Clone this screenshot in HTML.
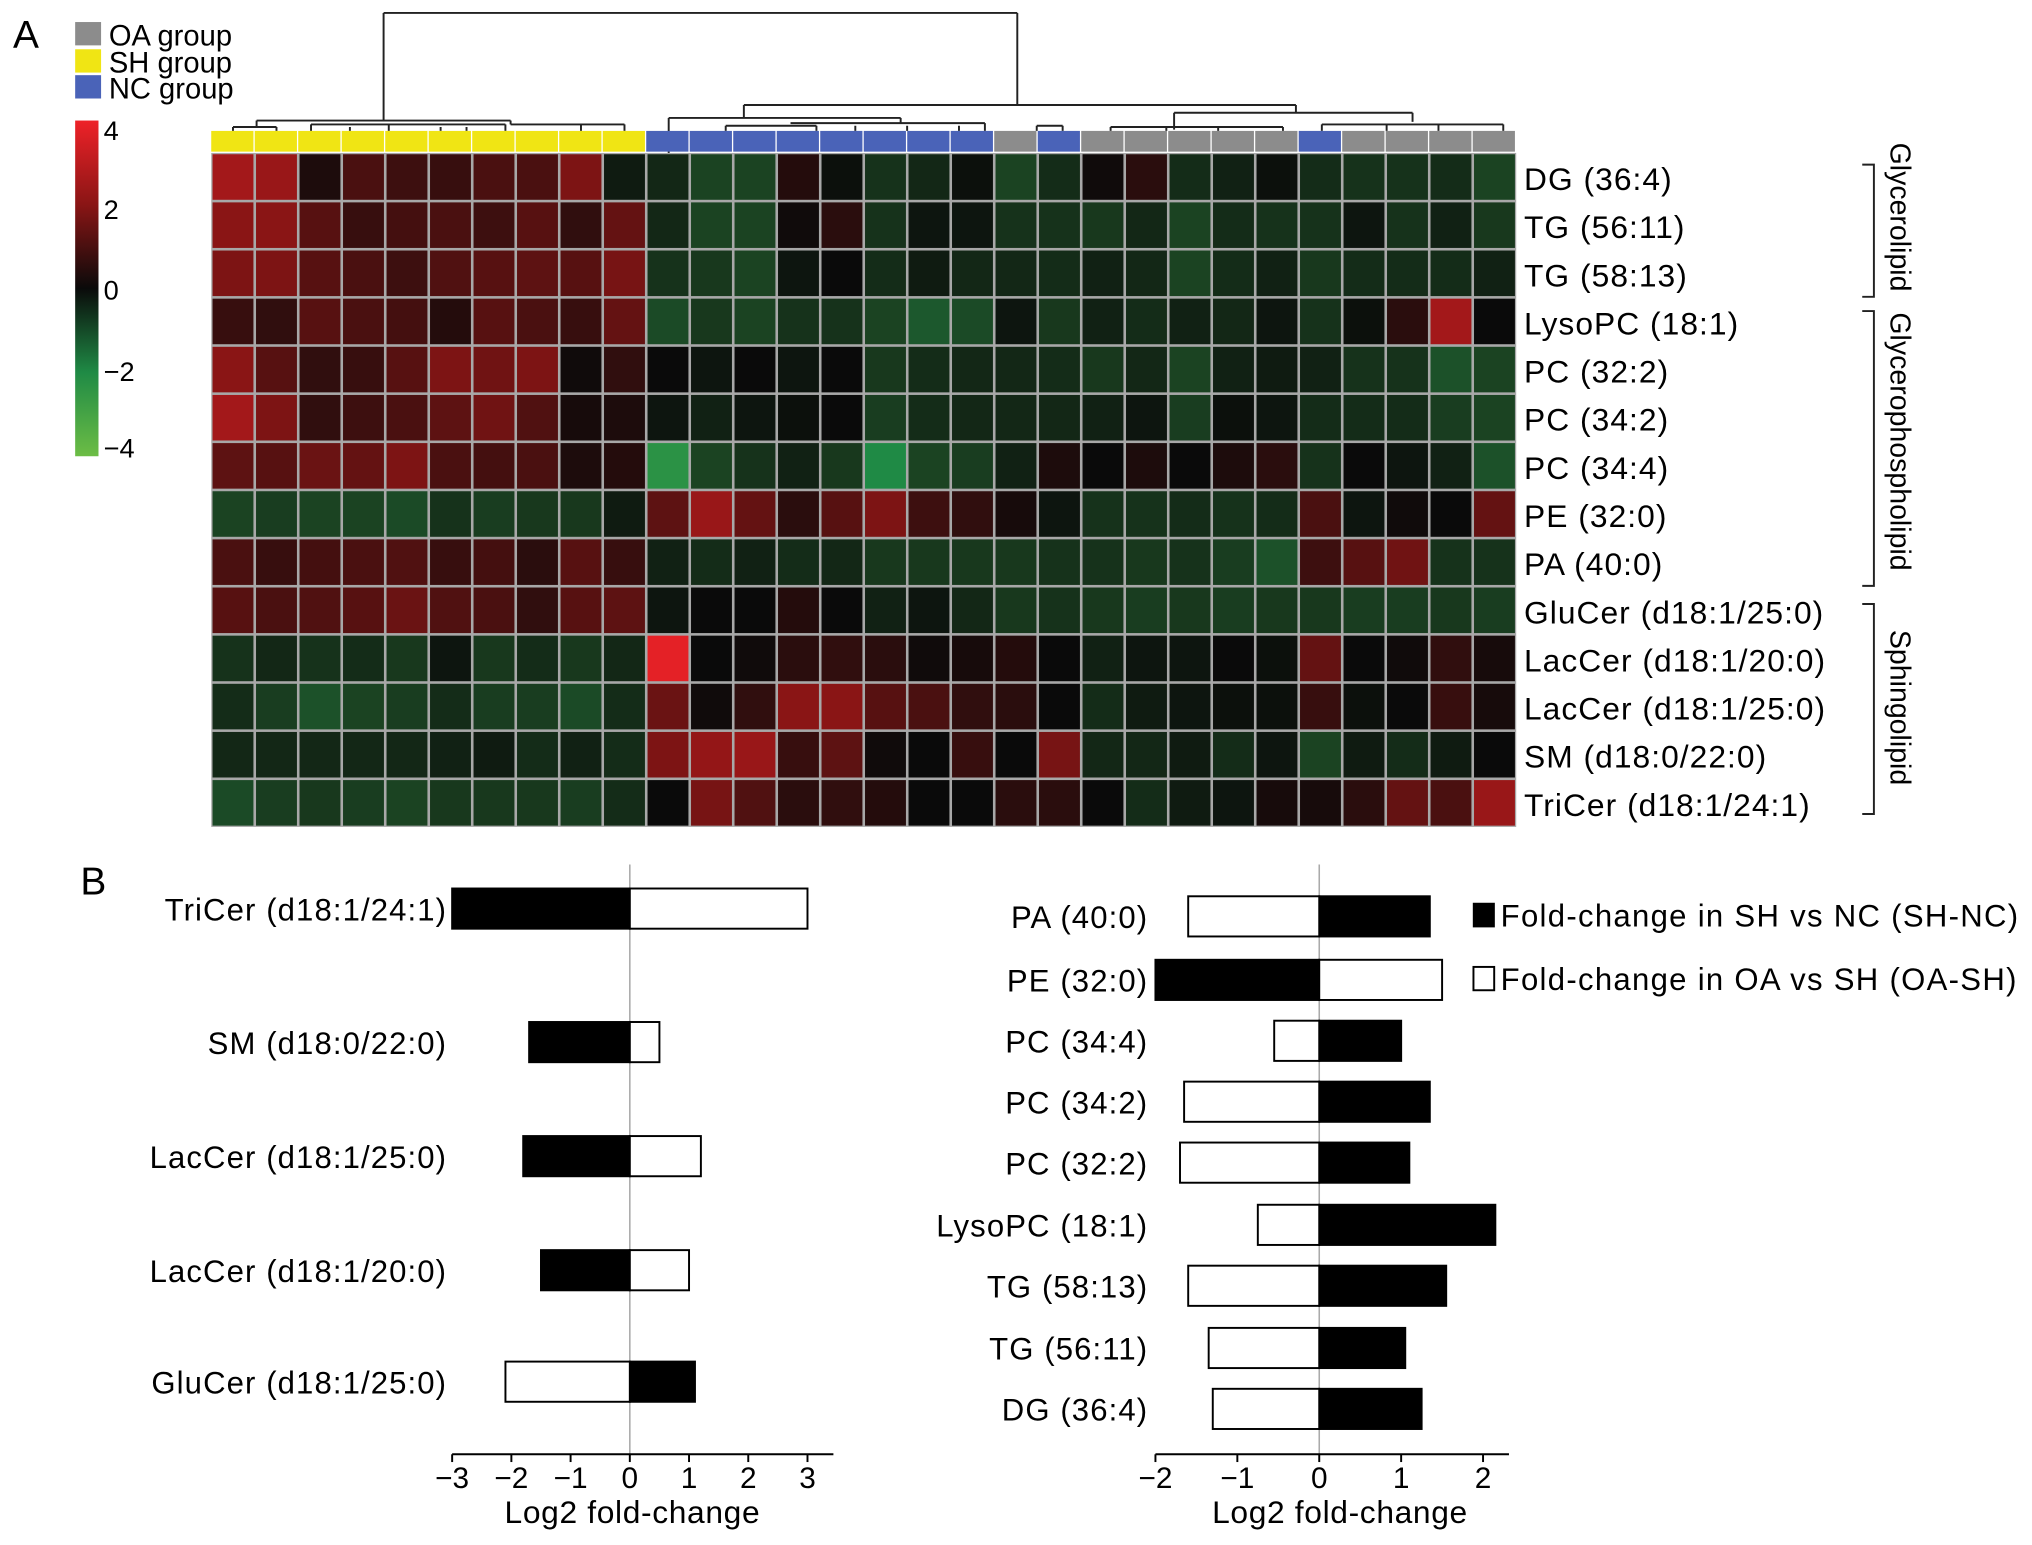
<!DOCTYPE html>
<html><head><meta charset="utf-8"><style>
html,body{margin:0;padding:0;background:#fff;}
svg{display:block;font-family:"Liberation Sans",Arial,sans-serif;}
</style></head><body>
<svg id="fig" width="2032" height="1545" viewBox="0 0 1568 1192" preserveAspectRatio="none" xmlns="http://www.w3.org/2000/svg">
<rect x="0" y="0" width="1568" height="1192" fill="#fff"/>
<text x="10" y="37" font-size="30">A</text>
<text x="62" y="690" font-size="30">B</text>
<g id="legendGroups">
<rect x="58" y="17" width="20" height="18" fill="#8c8c8c"/>
<text x="84" y="35" font-size="22.5">OA group</text>
<rect x="58" y="38" width="20" height="18" fill="#f0e514"/>
<text x="84" y="56" font-size="22.5">SH group</text>
<rect x="58" y="58" width="20" height="18" fill="#4a63b8"/>
<text x="84" y="76" font-size="22.5">NC group</text>
</g>
<defs><linearGradient id="cg" x1="0" y1="0" x2="0" y2="1">
<stop offset="0" stop-color="#ee2228"/><stop offset="0.25" stop-color="#8a1515"/><stop offset="0.5" stop-color="#0a0a0a"/><stop offset="0.75" stop-color="#1f8a45"/><stop offset="1" stop-color="#6cbd45"/>
</linearGradient></defs>
<g>
<rect x="58" y="93" width="18" height="259" fill="url(#cg)"/>
<text x="80" y="108" font-size="21">4</text>
<text x="80" y="169" font-size="21">2</text>
<text x="80" y="231" font-size="21">0</text>
<text x="80" y="294" font-size="21">−2</text>
<text x="80" y="353" font-size="21">−4</text>
</g>
<g id="dendro" fill="none" stroke="#222" stroke-width="1.5"></g>
<g id="annot"></g>
<g id="heat"></g>
<g id="rowlabels"></g>
<g fill="none" stroke="#222" stroke-width="1.5">
<path d="M1437 127 H1446 V229 H1437"/>
<path d="M1437 240 H1446 V452 H1437"/>
<path d="M1437 466 H1446 V628 H1437"/>
</g>
<text transform="translate(1459,110) rotate(90)" font-size="22">Glycerolipid</text>
<text transform="translate(1459,241) rotate(90)" font-size="22">Glycerophospholipid</text>
<text transform="translate(1459,486) rotate(90)" font-size="22">Sphingolipid</text>
<g id="barsL"></g>
<g id="barsR"></g>
<g>
<rect x="1137" y="697" width="16" height="18" fill="#000" stroke="#000"/>
<text x="1158" y="715" font-size="24" letter-spacing="1">Fold-change in SH vs NC (SH-NC)</text>
<rect x="1137" y="746" width="16" height="18" fill="#fff" stroke="#000" stroke-width="1.5"/>
<text x="1158" y="764" font-size="24" letter-spacing="1">Fold-change in OA vs SH (OA-SH)</text>
</g>
</svg>
<script>
const NS='http://www.w3.org/2000/svg';
const rowNames=['DG (36:4)','TG (56:11)','TG (58:13)','LysoPC (18:1)','PC (32:2)','PC (34:2)','PC (34:4)','PE (32:0)','PA (40:0)','GluCer (d18:1/25:0)','LacCer (d18:1/20:0)','LacCer (d18:1/25:0)','SM (d18:0/22:0)','TriCer (d18:1/24:1)'];
const colGroups=['SH','SH','SH','SH','SH','SH','SH','SH','SH','SH','NC','NC','NC','NC','NC','NC','NC','NC','OA','NC','OA','OA','OA','OA','OA','NC','OA','OA','OA','OA'];
const heatRow0=[2.5,2.3,0.3,1,0.8,0.7,1,1,1.8,-0.3,-0.5,-1,-1,0.4,-0.1,-0.7,-0.5,-0.1,-1,-0.6,0.1,0.5,-0.6,-0.4,-0.1,-0.6,-0.7,-0.7,-0.6,-1];
const heatRow1=[2,2,1.2,0.7,0.9,1,0.8,1.2,0.6,1.4,-0.5,-1,-1,0.1,0.5,-0.7,-0.2,-0.2,-0.7,-0.7,-0.8,-0.5,-1,-0.6,-0.7,-0.7,-0.2,-0.7,-0.4,-0.8];
const heatRow2=[1.8,1.8,1.2,1,0.8,1.1,1.2,1.3,1.2,1.7,-0.7,-0.8,-1,-0.2,0,-0.6,-0.3,-0.5,-0.5,-0.6,-0.4,-0.5,-1,-0.6,-0.4,-0.8,-0.6,-0.6,-0.6,-0.4];
const heatRow3=[0.7,0.6,1.2,1,0.9,0.4,1.2,1,0.7,1.4,-1.1,-0.8,-1,-0.7,-0.7,-1,-1.3,-1.1,-0.2,-0.8,-0.4,-0.6,-0.4,-0.5,-0.2,-0.7,-0.1,0.5,2.5,0];
const heatRow4=[2,1.2,0.6,0.7,1.2,1.8,1.6,1.8,0.1,0.6,0,-0.2,0,-0.2,0,-0.8,-0.6,-0.5,-0.5,-0.6,-0.8,-0.5,-1,-0.4,-0.3,-0.4,-0.7,-0.7,-1.2,-1];
const heatRow5=[2.5,1.8,0.6,0.8,1,1.3,1.6,1.1,0.2,0.3,-0.2,-0.4,-0.2,-0.1,0,-0.9,-0.6,-0.5,-0.5,-0.5,-0.4,-0.2,-0.9,-0.1,-0.2,-0.6,-0.6,-0.6,-0.9,-1];
const heatRow6=[1.3,1.2,1.5,1.4,1.8,1,0.9,1,0.3,0.4,-2.3,-1,-0.7,-0.4,-0.8,-2,-1,-0.9,-0.4,0.3,0,0.3,0,0.3,0.5,-0.7,0,-0.2,-0.4,-1.2];
const heatRow7=[-1,-0.9,-1,-1,-1.1,-0.7,-0.9,-0.8,-0.8,-0.3,1.3,2.3,1.4,0.5,1.2,1.8,0.8,0.6,0.2,-0.2,-0.7,-0.7,-0.6,-0.7,-0.6,1,-0.2,0.1,0,1.4];
const heatRow8=[1,0.7,0.9,1,1.1,0.7,0.9,0.5,1.2,0.7,-0.4,-0.6,-0.4,-0.6,-0.5,-0.8,-0.8,-0.8,-0.8,-0.7,-0.7,-0.8,-0.7,-0.9,-1.2,0.8,1.2,1.6,-0.7,-0.7];
const heatRow9=[1.2,1,1.1,1.2,1.5,1.1,1,0.6,1.2,1.3,-0.2,0,0,0.4,0,-0.4,-0.2,-0.5,-0.8,-0.7,-0.8,-0.9,-0.8,-0.9,-0.8,-0.8,-0.9,-0.9,-0.8,-0.9];
const heatRow10=[-0.7,-0.5,-0.7,-0.6,-0.8,-0.2,-0.8,-0.6,-0.8,-0.5,3.8,0,0.1,0.5,0.6,0.5,0.1,0.2,0.4,0,-0.4,-0.2,-0.2,0,-0.1,1.4,0,0.1,0.6,0.2];
const heatRow11=[-0.6,-0.9,-1.2,-1,-0.9,-0.6,-0.9,-0.9,-1.1,-0.6,1.5,0.1,0.6,2,2,1.2,1,0.6,0.5,0,-0.6,-0.3,-0.2,-0.1,-0.1,0.7,-0.1,0,0.7,0.2];
const heatRow12=[-0.5,-0.5,-0.5,-0.5,-0.5,-0.4,-0.3,-0.6,-0.4,-0.6,1.8,2.2,2.3,0.7,1.3,0.1,0,0.7,0,1.7,-0.5,-0.5,-0.3,-0.6,-0.2,-1,-0.3,-0.6,-0.3,0];
const heatRow13=[-1.1,-0.9,-0.8,-0.9,-1,-0.8,-0.8,-0.8,-0.9,-0.6,0,1.7,1.1,0.5,0.6,0.4,0,0,0.5,0.5,0,-0.6,-0.3,-0.2,0.2,0.2,0.5,1.4,1,2.3];
const heatRows=[heatRow0,heatRow1,heatRow2,heatRow3,heatRow4,heatRow5,heatRow6,heatRow7,heatRow8,heatRow9,heatRow10,heatRow11,heatRow12,heatRow13];

const leftCats=['TriCer (d18:1/24:1)','SM (d18:0/22:0)','LacCer (d18:1/25:0)','LacCer (d18:1/20:0)','GluCer (d18:1/25:0)'];
const leftShNc=[-3,-1.7,-1.8,-1.5,1.1];
const leftOaSh=[3,0.5,1.2,1.0,-2.1];
const leftTicks=[-3,-2,-1,0,1,2,3];
const rightCats=['PA (40:0)','PE (32:0)','PC (34:4)','PC (34:2)','PC (32:2)','LysoPC (18:1)','TG (58:13)','TG (56:11)','DG (36:4)'];
const rightShNc=[1.35,-2.0,1.0,1.35,1.1,2.15,1.55,1.05,1.25];
const rightOaSh=[-1.6,1.5,-0.55,-1.65,-1.7,-0.75,-1.6,-1.35,-1.3];
const rightTicks=[-2,-1,0,1,2];

function mk(tag,attrs,parent){const e=document.createElementNS(NS,tag);for(const k in attrs)e.setAttribute(k,attrs[k]);parent.appendChild(e);return e;}
function lerp(a,b,t){return a.map((v,i)=>Math.round(v+(b[i]-v)*t));}
const stops=[[-4,[108,189,69]],[-2,[31,138,69]],[-1,[27,67,34]],[0,[10,10,10]],[1,[74,16,16]],[2,[138,21,21]],[4,[238,34,40]]];
function color(v){v=Math.max(-4,Math.min(4,v));for(let i=0;i<stops.length-1;i++){const a=stops[i],b=stops[i+1];if(v>=a[0]&&v<=b[0]){const c=lerp(a[1],b[1],(v-a[0])/(b[0]-a[0]));return 'rgb('+c.join(',')+')';}}return '#000';}

const HX0=163,HX1=1170,HY0=118,HY1=638;
const nC=30,nR=rowNames.length;
const cw=(HX1-HX0)/nC, rh=(HY1-HY0)/nR;
const colX=i=>HX0+i*cw, rowY=j=>HY0+j*rh;
const heat=document.getElementById('heat');
mk('rect',{x:HX0,y:HY0,width:HX1-HX0,height:HY1-HY0,fill:'#a8a8a8'},heat);
heatRows.forEach((row,j)=>{row.forEach((v,i)=>{
  const r=mk('rect',{x:colX(i)+1,y:rowY(j)+1,width:cw-2,height:rh-2,fill:color(v)},heat);
  
  
});});
const gcol={SH:'#f0e514',NC:'#4a63b8',OA:'#8c8c8c'};
const annot=document.getElementById('annot');
colGroups.forEach((g,i)=>{
  const r=mk('rect',{x:colX(i),y:101,width:cw-1,height:16,fill:gcol[g]},annot);
  
  
});
const rl=document.getElementById('rowlabels');
rowNames.forEach((n,j)=>{
  const t=mk('text',{x:1176,y:rowY(j)+rh/2+10,'font-size':24.5,'letter-spacing':0.8},rl);t.textContent=n;
  
  
});
const dg=document.getElementById('dendro');
const cx=i=>colX(i)+cw/2;
const paths=[
 'M296 10 H785','M296 10 V93','M785 10 V81',
 'M198 93 H394','M198 93 V98','M394 93 V96',
 'M574 81 H1000','M574 81 V91','M1000 81 V87',
 'M516 91 H695','M516 91 V118','M695 91 V95',
 'M906 87 H1090','M906 87 V100','M1090 87 V94',
 'M'+cx(0)+' 98 H'+cx(1)+' M'+cx(0)+' 98 V101 M'+cx(1)+' 98 V101',
 'M240 96 H390 M300 96 V101 M240 96 V101 M390 96 V101 M270 98 V101 M340 98 V101 M360 98 V101',
 'M'+cx(8)+' 96 H'+cx(9)+' M'+cx(8)+' 96 V101 M'+cx(9)+' 96 V101 M394 96 H'+(cx(8)+cw/2),
 'M560 97 H630 M560 97 V101 M630 97 V101 M610 95 H760 M660 97 V101 M700 97 V101 M740 97 V101 M760 95 V101 M800 97 H820 M800 97 V101 M820 97 V101',
 'M857 98 H990 M857 98 V101 M900 98 V101 M940 98 V101 M990 98 V101',
 'M1020 96 H1160 M1020 96 V101 M1070 96 V101 M1110 96 V101 M1160 96 V101'
];
paths.forEach(d=>{const p=mk('path',{d:d},dg);
  
  });

function barChart(gid,cats,shnc,oash,ticks,zero,unit,centers,labelX,name){
  const g=document.getElementById(gid);
  const X=v=>zero+v*unit;
  const bh=31, axisY=1122;
  mk('line',{x1:zero,y1:667,x2:zero,y2:axisY,stroke:'#aaa','stroke-width':1.2},g);
  cats.forEach((c,k)=>{
    const cy=centers[k];
    [[shnc[k],'#000'],[oash[k],'#fff']].forEach(([v,f])=>{
      const x=Math.min(X(0),X(v)),w=Math.abs(X(v)-X(0));
      const r=mk('rect',{x:x,y:cy-bh/2,width:w,height:bh,fill:f,stroke:'#000','stroke-width':1.5},g);
      
      
    });
    const t=mk('text',{x:labelX,y:cy+9,'font-size':24,'letter-spacing':0.85,'text-anchor':'end'},g);t.textContent=c;
    
    
  });
  mk('line',{x1:X(ticks[0]),y1:axisY,x2:X(ticks[ticks.length-1])+20,y2:axisY,stroke:'#000','stroke-width':1.5},g);
  ticks.forEach(tk=>{
    mk('line',{x1:X(tk),y1:axisY,x2:X(tk),y2:axisY+6,stroke:'#000','stroke-width':1.5},g);
    const t=mk('text',{x:X(tk),y:axisY+26,'font-size':23,'text-anchor':'middle'},g);
    t.textContent=tk<0?'−'+(-tk):String(tk);
    
    
  });
  const tt=mk('text',{x:X(0)+(name==='left'?2:16),y:1175,'font-size':24.5,'letter-spacing':0.5,'text-anchor':'middle'},g);
  tt.textContent='Log2 fold-change';
  
  
}
barChart('barsL',leftCats,leftShNc,leftOaSh,leftTicks,486,45.7,[701,804,892,980,1066],345,'left');
barChart('barsR',rightCats,rightShNc,rightOaSh,rightTicks,1018,63.2,[707,756,803,850,897,945,992,1040,1087],886,'right');
</script>
</body></html>
